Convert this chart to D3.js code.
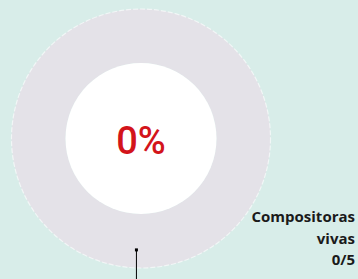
<!DOCTYPE html>
<html><head><meta charset="utf-8">
<script src="https://cdn.jsdelivr.net/npm/d3@7"></script>
<style>html,body{margin:0;padding:0;background:#d8ede9;}svg{display:block;}</style>
</head><body><svg id="c" width="358" height="279"></svg>
<script>
const categories = ["Compositoras vivas", "Resto"];
const values = [0, 5];
const total = 5;
const labelLines = ["Compositoras", "vivas", "0/5"];
const centerLabel = "0%";

const W = 358, H = 279;
const cx = 141, cy = 138.5, rOuter = 129.5, rInner = 75.5;
const svg = d3.select("#c");
svg.append("rect").attr("width", W).attr("height", H).attr("fill", "#d8ede9");
const g = svg.append("g").attr("transform", `translate(${cx},${cy})`);
const color = d3.scaleOrdinal().domain(categories).range(["#d3141b", "#e4e2e8"]);
const pie = d3.pie().sort(null).value(d => d)(values);
const arc = d3.arc().innerRadius(rInner).outerRadius(rOuter);
g.selectAll("path.slice").data(pie).enter().append("path")
  .attr("class", "slice").attr("d", arc).attr("fill", (d, i) => color(categories[i]));
g.append("circle").attr("r", rOuter).attr("fill", "none")
  .attr("stroke", "#ffffff").attr("stroke-width", 1.2).attr("stroke-dasharray", "5,2").attr("opacity", 0.6);
g.append("circle").attr("r", rInner).attr("fill", "#ffffff");
g.append("text").attr("x", 0).attr("y", 15).attr("text-anchor", "middle")
  .attr("font-family", "Roboto, 'Open Sans', sans-serif").attr("font-weight", 500).attr("font-size", 38)
  .attr("fill", "#d3141b").text(centerLabel);

// leader line from the arc of the first category
const labelArc = d3.arc().innerRadius(111.5).outerRadius(111.5);
const a = 0.041;
const p = labelArc.centroid({startAngle: Math.PI + a, endAngle: Math.PI + a});
g.append("rect").attr("x", p[0] - 1.5).attr("y", p[1] - 1.5).attr("width", 3).attr("height", 3).attr("fill", "#000");
g.append("line").attr("x1", p[0]).attr("y1", p[1]).attr("x2", p[0]).attr("y2", H - cy + 5)
  .attr("stroke", "#000").attr("stroke-width", 1);

const lab = svg.append("text").attr("text-anchor", "end")
  .attr("font-family", "'Open Sans', sans-serif").attr("font-weight", 700)
  .attr("font-size", 15).attr("fill", "#1a1a1a");
labelLines.forEach((t, i) => lab.append("tspan").attr("x", 355).attr("y", 222 + i * 21.5).text(t));
</script></body></html>
